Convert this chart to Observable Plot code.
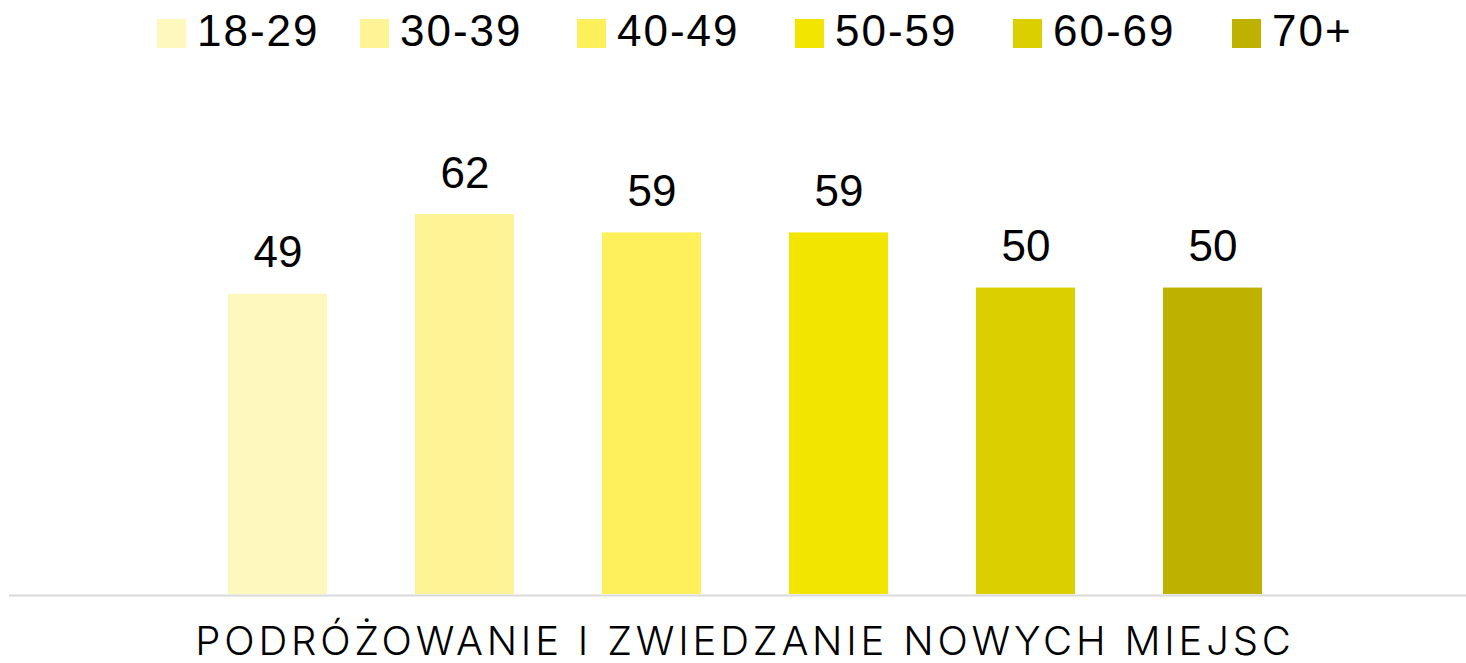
<!DOCTYPE html>
<html>
<head>
<meta charset="utf-8">
<script src="https://cdn.jsdelivr.net/npm/d3@7"></script>
<script src="https://cdn.jsdelivr.net/npm/@observablehq/plot@0.6"></script>
<style>
  html, body { margin: 0; padding: 0; background: #fff; }
  #legend { position: relative; height: 70px; }
  .item { position: absolute; top: 0; display: flex; align-items: center; height: 66px; }
  .sw { width: 29px; height: 29px; margin-right: 11px; }
  .lab { font-family: "Liberation Sans", Arial, sans-serif; font-size: 44px; letter-spacing: 2px; color: #000; line-height: 1; position: relative; top: -2px; }
  #chart svg { display: block; }
</style>
</head>
<body>
<div id="legend"></div>
<div id="chart"></div>
<script>
const ageGroups = ["18-29", "30-39", "40-49", "50-59", "60-69", "70+"];
const values = [49, 62, 59, 59, 50, 50];
const colors = ["#FFF8BE", "#FEF496", "#FEF05A", "#F2E500", "#DCCF00", "#BEB100"];
const categoryLabel = "PODRÓŻOWANIE I ZWIEDZANIE NOWYCH MIEJSC";

const data = ageGroups.map((g, i) => ({ group: g, value: values[i] }));

// legend (HTML above the SVG)
const legendLeft = [157, 360, 577, 795, 1013, 1232];
const legend = document.getElementById("legend");
ageGroups.forEach((g, i) => {
  const it = document.createElement("div");
  it.className = "item";
  it.style.left = legendLeft[i] + "px";
  const sw = document.createElement("div");
  sw.className = "sw";
  sw.style.background = colors[i];
  const lb = document.createElement("span");
  lb.className = "lab";
  lb.textContent = g;
  it.appendChild(sw);
  it.appendChild(lb);
  legend.appendChild(it);
});

const chart = Plot.plot({
  width: 1466,
  height: 593,
  marginLeft: 9,
  marginRight: 0,
  marginTop: 95,
  marginBottom: 69,
  x: { domain: ageGroups, range: [181.7, 1307.3], paddingInner: 0.472, paddingOuter: 0.236, axis: null },
  y: { domain: [0, 70], axis: null },
  color: { domain: ageGroups, range: colors },
  marks: [
    Plot.barY(data, { x: "group", y: "value", fill: "group" }),
    Plot.ruleY([0], { stroke: "#d9d9d9", strokeWidth: 2, dy: 1 }),
    Plot.text(data, { x: "group", y: "value", text: d => String(d.value), dy: -27, lineAnchor: "bottom", fontSize: 44, fontFamily: "Liberation Sans, Arial, sans-serif", fill: "#000" }),
    Plot.text([categoryLabel], { text: d => d, frameAnchor: "bottom", lineAnchor: "bottom", dy: 60, dx: 7, fontSize: 40, fontWeight: 300, fontFamily: "Inter, sans-serif", fill: "#000" })
  ]
});
chart.querySelectorAll("text").forEach(t => {
  if (t.textContent === categoryLabel) t.style.letterSpacing = "3.8px";
});
document.getElementById("chart").appendChild(chart);
</script>
</body>
</html>
